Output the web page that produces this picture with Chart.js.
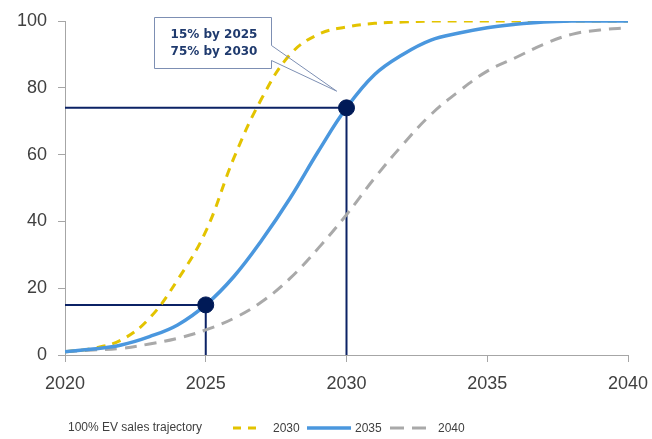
<!DOCTYPE html>
<html>
<head>
<meta charset="utf-8">
<script src="https://cdn.jsdelivr.net/npm/chart.js@4"></script>
<style>
html,body{margin:0;padding:0;background:#fff;}
#wrap{width:652px;height:439px;}
</style>
</head>
<body>
<div id="wrap"><canvas id="c" width="652" height="439"></canvas></div>
<script>
// ---- data ----
const years = [2020,2021,2022,2023,2024,2025,2026,2027,2028,2029,2030,2031,2032,2033,2034,2035,2036,2037,2038,2039,2040];
const s2030 = [1,2,4.5,11,22.5,37,59,77,90,96,98.2,99.3,99.7,100,100,100,100,100,100,100,100];
const s2035 = [1,1.8,3,5.5,9,15,23.5,34.5,47,61,74,84,90,94.3,96.4,98,99,99.7,100,100,100];
const s2040 = [1,1.5,2,3.3,5,7.5,11,16,23,32,42,53,63,72,79,85,89,93,96,97.3,98];
const seriesNames = ['2030','2035','2040'];
const markerYears = [2025,2030];
const markerValues = [15,74];
const calloutLines = ['15% by 2025','75% by 2030'];
const legendTitle = '100% EV sales trajectory';
const xTicks = [2020,2025,2030,2035,2040];
const yTicks = [0,20,40,60,80,100];

const YELLOW = '#E3C300', BLUE = '#4A97DE', GRAY = '#A9A9A9', NAVY = '#0B2265', MARK = '#001A57';
const toXY = (arr) => years.map((y,i)=>({x:y,y:arr[i]}));

const refSets = markerYears.map((yr,i)=>({
  type:'line',
  data:[{x:years[0],y:markerValues[i]},{x:yr,y:markerValues[i]},{x:yr,y:0}],
  borderColor:NAVY, borderWidth:2, pointRadius:0, tension:0, fill:false, order:5
}));

const data = {
  datasets:[
    ...refSets,
    {label:seriesNames[0], data:toXY(s2030), borderColor:YELLOW, borderWidth:3, borderDash:[9,7], pointRadius:0, tension:0.4, order:3},
    {label:seriesNames[2], data:toXY(s2040), borderColor:GRAY, borderWidth:3, borderDash:[12,8], pointRadius:0, tension:0.4, order:4},
    {label:seriesNames[1], data:toXY(s2035), borderColor:BLUE, borderWidth:3.5, pointRadius:0, tension:0.4, order:2},
    {type:'scatter', data:markerYears.map((y,i)=>({x:y,y:markerValues[i]})), backgroundColor:MARK, borderColor:MARK, pointRadius:8, pointHoverRadius:8, order:0}
  ]
};

const FONT = "'Liberation Sans', Arial, sans-serif";

const overlay = {
  id:'overlay',
  afterDatasetsDraw(chart){
    const ctx = chart.ctx, xs = chart.scales.x, ys = chart.scales.y;
    const bx = 154.5, by = 17.5, bw = 117, bh = 51;
    const tipX = xs.getPixelForValue(2029.65), tipY = ys.getPixelForValue(79);
    ctx.save();
    ctx.fillStyle='#fff';
    ctx.fillRect(bx,by,bw,bh);
    ctx.beginPath();
    ctx.moveTo(bx,by);
    ctx.lineTo(bx+bw,by);
    ctx.lineTo(bx+bw,by+28);
    ctx.lineTo(tipX,tipY);
    ctx.lineTo(bx+bw,by+43);
    ctx.lineTo(bx+bw,by+bh);
    ctx.lineTo(bx,by+bh);
    ctx.closePath();
    ctx.strokeStyle='#7D8FB3';
    ctx.lineWidth=1;
    ctx.stroke();
    ctx.fillStyle='#1F3A6E';
    ctx.font = "bold 12px 'DejaVu Sans', sans-serif";
    ctx.textAlign='center';
    ctx.textBaseline='middle';
    ctx.fillText(calloutLines[0], 214, 35);
    ctx.fillText(calloutLines[1], 214, 52);
    ctx.restore();
  },
  afterDraw(chart){
    const ctx = chart.ctx;
    const yL = 428;
    ctx.save();
    ctx.font = "12px " + FONT;
    ctx.fillStyle = '#404040';
    ctx.textBaseline='middle';
    ctx.textAlign='left';
    ctx.fillText(legendTitle, 68, yL);
    const items = [
      {name:seriesNames[0], c:YELLOW, dash:[8,7], x0:233, x1:258, tx:273, w:3},
      {name:seriesNames[1], c:BLUE, dash:[], x0:307, x1:351, tx:355, w:3.5},
      {name:seriesNames[2], c:GRAY, dash:[14,8], x0:390, x1:433, tx:438, w:3}
    ];
    items.forEach(it=>{
      ctx.beginPath();
      ctx.setLineDash(it.dash);
      ctx.strokeStyle=it.c; ctx.lineWidth=it.w;
      ctx.moveTo(it.x0,yL); ctx.lineTo(it.x1,yL); ctx.stroke();
      ctx.setLineDash([]);
      ctx.fillStyle='#404040';
      ctx.fillText(it.name, it.tx, yL+1);
    });
    ctx.restore();
  }
};

new Chart(document.getElementById('c'), {
  type:'line',
  data,
  options:{
    responsive:false,
    animation:false,
    devicePixelRatio:1,
    layout:{padding:{left:0,right:24,top:21,bottom:0}},
    plugins:{legend:{display:false}, tooltip:{enabled:false}},
    scales:{
      x:{
        type:'linear', min:2020, max:2040,
        afterBuildTicks(s){ s.ticks = xTicks.map(v=>({value:v})); },
        afterFit(s){ s.height = 84; s.paddingLeft = 0; s.paddingRight = 0; },
        grid:{display:true, drawOnChartArea:false, drawTicks:true, tickLength:7, color:'#A6A6A6', lineWidth:1},
        border:{color:'#A6A6A6', width:1},
        ticks:{color:'#404040', font:{family:FONT, size:18}, padding:11, callback:v=>String(v), maxRotation:0}
      },
      y:{
        min:0, max:100,
        afterBuildTicks(s){ s.ticks = yTicks.map(v=>({value:v})); },
        afterFit(s){ s.width = 65; s.paddingTop = 0; s.paddingBottom = 0; },
        grid:{display:true, drawOnChartArea:false, drawTicks:true, tickLength:7, color:'#A6A6A6', lineWidth:1},
        border:{color:'#A6A6A6', width:1},
        ticks:{color:'#404040', font:{family:FONT, size:18}, padding:11}
      }
    }
  },
  plugins:[overlay]
});
</script>
</body>
</html>
